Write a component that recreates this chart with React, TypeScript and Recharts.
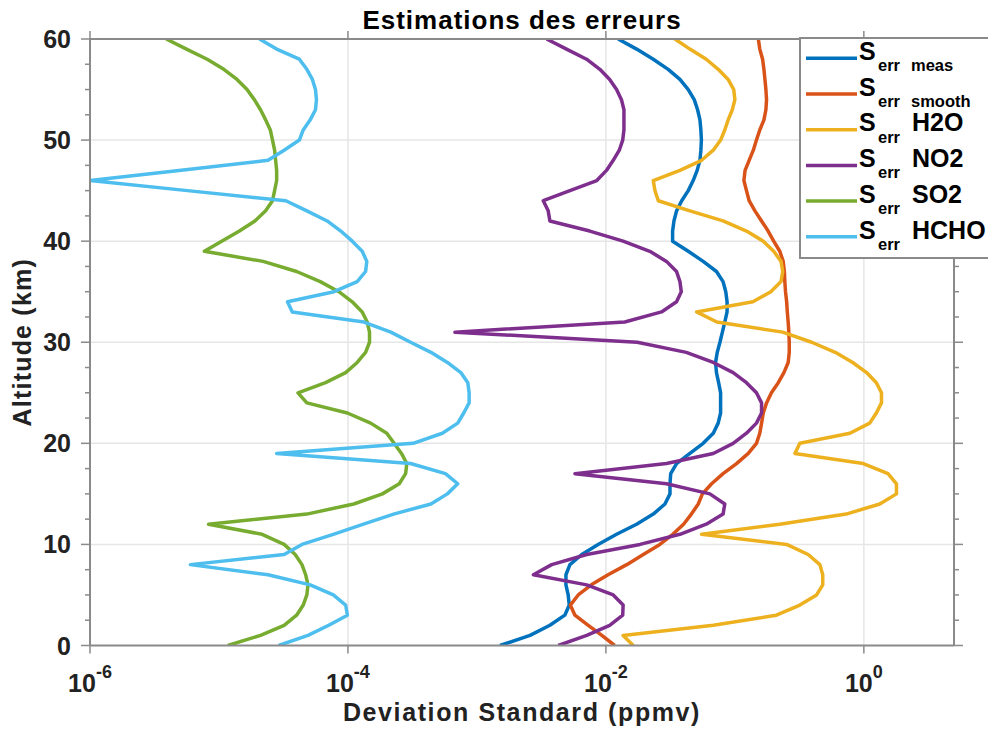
import React from 'react';
import { LineChart, Line, XAxis, YAxis, CartesianGrid } from 'recharts';

// altitude grid (km), one point per km
const altitudes = [
  0, 1, 2, 3, 4, 5, 6, 7, 8, 9, 10, 11, 12, 13, 14, 15, 16, 17, 18, 19, 20,
  21, 22, 23, 24, 25, 26, 27, 28, 29, 30, 31, 32, 33, 34, 35, 36, 37, 38, 39, 40,
  41, 42, 43, 44, 45, 46, 47, 48, 49, 50, 51, 52, 53, 54, 55, 56, 57, 58, 59, 60,
];

// standard deviations (ppmv), index = altitude
const errMeas = [
  0.00151, 0.00258, 0.00368, 0.0048, 0.0052, 0.0051, 0.0049, 0.0049, 0.00526, 0.0065, 0.0087,
  0.0121, 0.0173, 0.0233, 0.0287, 0.0314, 0.0314, 0.0318, 0.0353, 0.0448, 0.0568,
  0.068, 0.0742, 0.0775, 0.0775, 0.0775, 0.0748, 0.072, 0.0708, 0.073, 0.0766,
  0.08, 0.0835, 0.087, 0.087, 0.085, 0.081, 0.072, 0.0568, 0.0435, 0.0329,
  0.0329, 0.0337, 0.0353, 0.0387, 0.0435, 0.0475, 0.051, 0.0536, 0.0545, 0.055,
  0.0545, 0.0536, 0.0514, 0.0484, 0.0435, 0.0375, 0.0304, 0.0233, 0.0173, 0.01245,
];

const errSmooth = [
  0.0117, 0.0093, 0.0073, 0.00575, 0.0053, 0.0061, 0.0077, 0.0104, 0.0145, 0.0195, 0.0262,
  0.033, 0.04, 0.046, 0.052, 0.056, 0.066, 0.081, 0.103, 0.127, 0.147,
  0.156, 0.161, 0.166, 0.176, 0.192, 0.217, 0.24, 0.259, 0.264, 0.264,
  0.262, 0.259, 0.255, 0.252, 0.247, 0.244, 0.242, 0.237, 0.223, 0.2,
  0.181, 0.161, 0.143, 0.129, 0.123, 0.1175, 0.12, 0.129, 0.139, 0.147,
  0.156, 0.168, 0.174, 0.176, 0.174, 0.171, 0.168, 0.164, 0.156, 0.152,
];

const errH2O = [
  0.0163, 0.0136, 0.068, 0.21, 0.319, 0.43, 0.48, 0.48, 0.456, 0.37, 0.252,
  0.0552, 0.223, 0.73, 1.33, 1.79, 1.79, 1.54, 0.99, 0.292, 0.319,
  0.78, 1.11, 1.25, 1.37, 1.37, 1.25, 1.05, 0.82, 0.6, 0.394,
  0.235, 0.0725, 0.0505, 0.138, 0.19, 0.228, 0.235, 0.228, 0.2, 0.166,
  0.123, 0.081, 0.0448, 0.0255, 0.024, 0.0233, 0.0375, 0.0552, 0.068, 0.0775,
  0.0835, 0.0887, 0.0955, 0.1, 0.098, 0.0887, 0.0743, 0.06, 0.0448, 0.0343,
];

const errNO2 = [
  0.00427, 0.0071, 0.0107, 0.0135, 0.0136, 0.0114, 0.0071, 0.00274, 0.0038, 0.0071, 0.0184,
  0.0375, 0.06, 0.081, 0.0835, 0.064, 0.0295, 0.00575, 0.0295, 0.068, 0.097,
  0.123, 0.147, 0.161, 0.161, 0.147, 0.123, 0.097, 0.068, 0.042, 0.0175,
  0.000675, 0.014, 0.027, 0.0353, 0.0384, 0.0375, 0.0353, 0.0295, 0.0219, 0.0136,
  0.0075, 0.00368, 0.00357, 0.00327, 0.00526, 0.0085, 0.0101, 0.0114, 0.0127, 0.0135,
  0.0138, 0.0138, 0.0138, 0.0132, 0.0121, 0.0107, 0.00898, 0.00708, 0.00495, 0.00347,
];

const errSO2 = [
  1.17e-5, 2.1e-5, 3.2e-5, 4.0e-5, 4.5e-5, 4.8e-5, 4.9e-5, 4.7e-5, 4.4e-5, 3.9e-5, 3.2e-5,
  2.16e-5, 8.3e-6, 4.8e-5, 1.11e-4, 1.85e-4, 2.5e-4, 2.8e-4, 2.86e-4, 2.6e-4, 2.28e-4,
  2.0e-4, 1.5e-4, 9.9e-5, 4.8e-5, 4.1e-5, 6.7e-5, 9.6e-5, 1.18e-4, 1.37e-4, 1.47e-4,
  1.47e-4, 1.41e-4, 1.29e-4, 1.08e-4, 8.5e-5, 6.1e-5, 4.0e-5, 2.2e-5, 7.7e-6, 1.05e-5,
  1.44e-5, 1.9e-5, 2.3e-5, 2.6e-5, 2.7e-5, 2.8e-5, 2.8e-5, 2.75e-5, 2.7e-5, 2.6e-5,
  2.5e-5, 2.3e-5, 2.1e-5, 1.88e-5, 1.65e-5, 1.38e-5, 1.09e-5, 8.1e-6, 5.6e-6, 3.9e-6,
];

const errHCHO = [
  2.9e-5, 4.9e-5, 7.1e-5, 9.9e-5, 9.6e-5, 7.7e-5, 5.1e-5, 2.4e-5, 6.0e-6, 3.2e-5, 4.4e-5,
  7.7e-5, 1.32e-4, 2.26e-4, 4.4e-4, 5.9e-4, 7.1e-4, 5.7e-4, 3.06e-4, 2.8e-5, 3.2e-4,
  5.4e-4, 7.1e-4, 7.9e-4, 8.7e-4, 8.7e-4, 8.5e-4, 7.5e-4, 5.9e-4, 4.4e-4, 3.06e-4,
  2.15e-4, 1.33e-4, 3.7e-5, 3.4e-5, 7.8e-5, 1.18e-4, 1.37e-4, 1.4e-4, 1.29e-4, 1.08e-4,
  8.8e-5, 6.9e-5, 4.8e-5, 3.3e-5, 5.7e-6, 1.0e-6, 4.9e-6, 2.4e-5, 3.2e-5, 4.2e-5,
  4.5e-5, 5.1e-5, 5.6e-5, 5.7e-5, 5.6e-5, 5.3e-5, 4.8e-5, 4.2e-5, 2.8e-5, 2.06e-5,
];

const xTicks = [1e-6, 1e-4, 1e-2, 1];
const yTicks = [
  0, 2.5, 5, 7.5, 10, 12.5, 15, 17.5, 20, 22.5, 25, 27.5, 30,
  32.5, 35, 37.5, 40, 42.5, 45, 47.5, 50, 52.5, 55, 57.5, 60,
];
const yGrid = [10, 20, 30, 40, 50];
const xGrid = [1e-4, 1e-2, 1];

const series = [
  { key: 'meas', label: 'meas', inline: true, color: '#0072BD', values: errMeas },
  { key: 'smooth', label: 'smooth', inline: true, color: '#D95319', values: errSmooth },
  { key: 'h2o', label: 'H2O', inline: false, color: '#EDB120', values: errH2O },
  { key: 'no2', label: 'NO2', inline: false, color: '#7E2F8E', values: errNO2 },
  { key: 'so2', label: 'SO2', inline: false, color: '#77AC30', values: errSO2 },
  { key: 'hcho', label: 'HCHO', inline: false, color: '#4DBEEE', values: errHCHO },
];

const rows = altitudes.map((alt, i) => {
  const row: Record<string, number> = { alt };
  series.forEach((s) => { row[s.key] = s.values[i]; });
  return row;
});

const FONT = '"Liberation Sans", Arial, Helvetica, sans-serif';
const AXIS = '#8a8a8a';
const INK = '#222222';

function LeftTick(props: any) {
  const { x, y, payload } = props;
  const major = payload.value % 10 === 0;
  return (
    <g>
      <line x1={x} x2={x - (major ? 9 : 5)} y1={y} y2={y} stroke={AXIS} strokeWidth={1.5} />
      {major && (
        <text x={x - 19} y={y} dy="0.36em" textAnchor="end" fontSize={25} fontWeight="bold" fill={INK} fontFamily={FONT}>
          {payload.value}
        </text>
      )}
    </g>
  );
}

function RightTick(props: any) {
  const { x, y, payload } = props;
  const major = payload.value % 10 === 0;
  return <line x1={x} x2={x + (major ? 9 : 5)} y1={y} y2={y} stroke={AXIS} strokeWidth={1.5} />;
}

function BottomTick(props: any) {
  const { x, y, payload } = props;
  const exp = Math.round(Math.log10(payload.value));
  return (
    <text x={x} y={y} dy={38.5} textAnchor="middle" fontSize={25} fontWeight="bold" fill={INK} fontFamily={FONT}>
      <tspan>10</tspan>
      <tspan dy={-14} fontSize={18}>{exp}</tspan>
    </text>
  );
}

function NoTick() {
  return <g />;
}

function Legend() {
  const top = 38;
  const step = 35.7;
  return (
    <svg width={988} height={731} style={{ position: 'absolute', left: 0, top: 0, pointerEvents: 'none' }}>
      <rect x={800} y={top} width={200} height={220} fill="#ffffff" stroke={AXIS} strokeWidth={2} />
      {series.map((s, i) => {
        const cy = top + 20.3 + step * i;
        return (
          <g key={s.key} fontFamily={FONT} fontWeight="bold" fill="#000">
            <line x1={806} x2={857} y1={cy} y2={cy} stroke={s.color} strokeWidth={3.5} />
            <text x={859} y={cy + 1.7} fontSize={25}>S</text>
            <text x={878} y={cy + 13} fontSize={16.5}>err</text>
            {s.inline ? (
              <text x={911} y={cy + 13} fontSize={16.5}>{s.label}</text>
            ) : (
              <text x={912} y={cy + 1.7} fontSize={25}>{s.label}</text>
            )}
          </g>
        );
      })}
    </svg>
  );
}

export default function App() {
  return (
    <div style={{ position: 'absolute', left: 0, top: 0, width: 988, height: 731, overflow: 'hidden', background: '#fff', fontFamily: FONT }}>
      <div style={{ position: 'absolute', left: 90, top: 7, width: 864, textAlign: 'center', fontSize: 26, lineHeight: '26px', fontWeight: 'bold', letterSpacing: 1, color: '#000' }}>
        Estimations des erreurs
      </div>
      <LineChart width={988} height={731} data={rows} layout="vertical" margin={{ top: 0, right: 0, bottom: 0, left: 0 }}>
        <CartesianGrid horizontalValues={yGrid} verticalValues={xGrid} stroke="#e6e6e6" strokeWidth={1.5} />
        <XAxis
          xAxisId={0}
          type="number"
          scale="log"
          domain={[1e-6, 5]}
          allowDataOverflow
          ticks={xTicks}
          interval={0}
          orientation="bottom"
          height={85.5}
          tick={<BottomTick />}
          tickSize={8}
          tickMargin={0}
          axisLine={{ stroke: AXIS, strokeWidth: 2 }}
          tickLine={{ stroke: AXIS, strokeWidth: 1.5 }}
          label={{
            value: 'Deviation Standard (ppmv)',
            position: 'insideBottom',
            offset: 10,
            style: { fontSize: 25, fontWeight: 'bold', fill: INK, fontFamily: FONT, letterSpacing: 1.6 },
          }}
        />
        <XAxis
          xAxisId="top"
          type="number"
          scale="log"
          domain={[1e-6, 5]}
          allowDataOverflow
          ticks={xTicks}
          interval={0}
          orientation="top"
          height={39}
          tick={<NoTick />}
          tickSize={8}
          axisLine={{ stroke: AXIS, strokeWidth: 2 }}
          tickLine={{ stroke: AXIS, strokeWidth: 1.5 }}
        />
        <YAxis
          yAxisId={0}
          type="number"
          dataKey="alt"
          domain={[0, 60]}
          reversed
          allowDataOverflow
          ticks={yTicks}
          interval={0}
          width={90}
          tick={<LeftTick />}
          tickSize={0}
          tickMargin={0}
          tickLine={false}
          axisLine={{ stroke: AXIS, strokeWidth: 2 }}
          label={{
            value: 'Altitude (km)',
            position: 'insideLeft',
            angle: -90,
            offset: 22.5,
            style: { fontSize: 25, fontWeight: 'bold', fill: INK, fontFamily: FONT, letterSpacing: 1.2, textAnchor: 'middle' },
          }}
        />
        <YAxis
          yAxisId="right"
          orientation="right"
          type="number"
          dataKey="alt"
          domain={[0, 60]}
          reversed
          allowDataOverflow
          ticks={yTicks}
          interval={0}
          width={34}
          tick={<RightTick />}
          tickSize={0}
          tickMargin={0}
          tickLine={false}
          axisLine={{ stroke: AXIS, strokeWidth: 2 }}
        />
        {series.map((s) => (
          <Line
            key={s.key}
            dataKey={s.key}
            type="linear"
            stroke={s.color}
            strokeWidth={3.5}
            strokeLinejoin="round"
            dot={false}
            activeDot={false}
            isAnimationActive={false}
          />
        ))}
      </LineChart>
      <Legend />
    </div>
  );
}
